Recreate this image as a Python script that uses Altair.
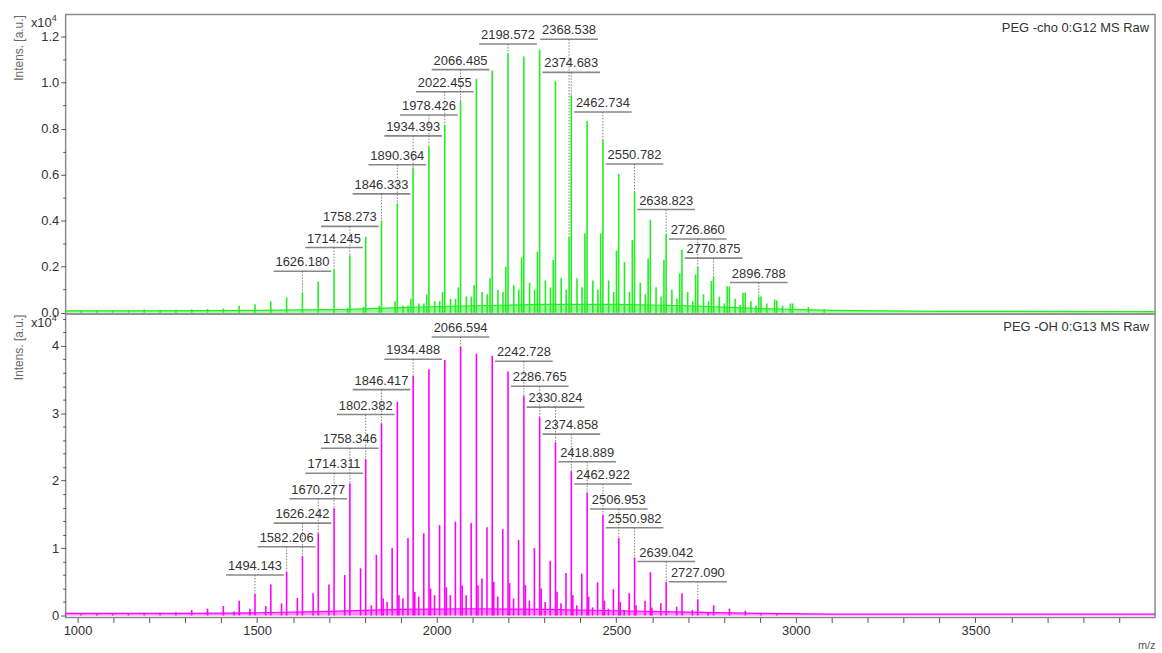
import altair as alt
import pandas as pd

# ------------------------------------------------------------------
# Data (intensities in units of 1e4)
# ------------------------------------------------------------------

# ---- top spectrum: PEG -cho 0:G12 MS Raw ----
top_main_mz = [1009.78, 1053.81, 1097.84, 1141.87, 1185.90, 1229.93, 1273.96, 1317.99,
               1362.00, 1406.03, 1450.06, 1494.09, 1538.12, 1582.15, 1626.18, 1670.21,
               1714.25, 1758.27, 1802.30, 1846.33, 1890.36, 1934.39, 1978.43, 2022.46,
               2066.49, 2110.51, 2154.54, 2198.57, 2242.60, 2286.63, 2330.66, 2374.68,
               2418.71, 2462.73, 2506.76, 2550.78, 2594.80, 2638.82, 2682.84, 2726.86,
               2770.88, 2814.90, 2858.92, 2902.94, 2946.96, 2990.98, 3035.00, 3079.02]
top_main_int = [0.010, 0.012, 0.010, 0.012, 0.014, 0.012, 0.013, 0.015,
                0.016, 0.018, 0.030, 0.037, 0.049, 0.066, 0.088, 0.135,
                0.189, 0.250, 0.329, 0.401, 0.476, 0.631, 0.722, 0.816,
                0.919, 1.016, 1.052, 1.128, 1.113, 1.142, 1.006, 0.944,
                0.833, 0.750, 0.603, 0.524, 0.404, 0.344, 0.275, 0.200,
                0.157, 0.114, 0.088, 0.070, 0.053, 0.040, 0.025, 0.015]

top_sec_mz = [1752.1, 1796.2, 1840.2, 1884.2, 1928.2, 1972.3, 2016.3, 2060.3, 2104.4,
              2148.4, 2192.4, 2236.5, 2280.5, 2324.5, 2368.54, 2412.6, 2456.6, 2500.6,
              2544.6, 2588.7, 2632.7, 2676.7, 2720.7, 2764.7, 2808.8, 2852.8, 2896.79,
              2940.8, 2984.8]
top_sec_int = [0.020, 0.025, 0.030, 0.050, 0.060, 0.080, 0.090, 0.110, 0.120,
               0.150, 0.200, 0.240, 0.265, 0.230, 0.330, 0.344, 0.344, 0.270,
               0.315, 0.236, 0.230, 0.171, 0.166, 0.137, 0.115, 0.086, 0.070,
               0.057, 0.040]

top_ter_mz = [1906.4, 1950.4, 1994.4, 2038.5, 2082.5, 2126.5, 2170.5, 2214.6, 2258.6,
              2302.6, 2346.7, 2390.7, 2434.7, 2478.7, 2522.8, 2566.8, 2610.8, 2654.8,
              2698.8, 2742.9, 2786.9, 2830.9, 2874.9, 2918.9, 2963.0]
top_ter_int = [0.030, 0.040, 0.050, 0.060, 0.070, 0.090, 0.100, 0.120, 0.130,
               0.140, 0.150, 0.150, 0.140, 0.140, 0.220, 0.130, 0.110, 0.100,
               0.090, 0.080, 0.070, 0.060, 0.050, 0.040, 0.030]

top_q_mz = [1920.4, 1964.4, 2008.5, 2052.5, 2096.5, 2140.5, 2184.6, 2228.6, 2272.6,
            2316.7, 2360.7, 2404.7, 2448.7, 2492.8, 2536.8, 2580.8, 2624.8, 2668.8,
            2712.9, 2756.9, 2800.9, 2844.9, 2888.9]
top_q_int = [0.030, 0.040, 0.050, 0.060, 0.070, 0.080, 0.090, 0.100, 0.100,
             0.110, 0.100, 0.110, 0.100, 0.090, 0.090, 0.080, 0.070, 0.060,
             0.050, 0.050, 0.040, 0.035, 0.030]

top_base_mz = [967, 1200, 1500, 1750, 1900, 2100, 2300, 2500, 2700, 2900, 3100, 3400, 4000]
top_base_int = [0.008, 0.008, 0.010, 0.014, 0.022, 0.030, 0.036, 0.036, 0.030, 0.018,
                0.010, 0.006, 0.005]

top_lab_text = ["1626.180", "1714.245", "1758.273", "1846.333", "1890.364", "1934.393",
                "1978.426", "2022.455", "2066.485", "2198.572", "2368.538", "2374.683",
                "2462.734", "2550.782", "2638.823", "2726.860", "2770.875", "2896.788"]
top_lab_level = [0.180, 0.283, 0.375, 0.516, 0.643, 0.768,
                 0.859, 0.960, 1.056, 1.167, 1.188, 1.044,
                 0.872, 0.646, 0.448, 0.320, 0.237, 0.131]

# ---- bottom spectrum: PEG -OH 0:G13 MS Raw ----
bot_main_mz = [1009.8, 1053.8, 1097.8, 1141.9, 1185.9, 1229.9, 1274.0, 1318.0, 1362.0,
               1406.07, 1450.11, 1494.14, 1538.17, 1582.21, 1626.24, 1670.28, 1714.31,
               1758.35, 1802.38, 1846.42, 1890.45, 1934.49, 1978.52, 2022.56, 2066.59,
               2110.62, 2154.66, 2198.69, 2242.73, 2286.77, 2330.82, 2374.86, 2418.89,
               2462.92, 2506.95, 2550.98, 2595.01, 2639.04, 2683.07, 2727.09, 2771.12,
               2815.15, 2859.18, 2903.21, 2947.24]
bot_main_int = [0.03, 0.035, 0.03, 0.035, 0.04, 0.04, 0.05, 0.08, 0.10,
                0.14, 0.22, 0.32, 0.46, 0.65, 0.88, 1.22, 1.59,
                1.96, 2.32, 2.85, 3.17, 3.55, 3.65, 3.79, 3.99,
                3.88, 3.85, 3.62, 3.26, 2.94, 2.57, 2.14, 1.82,
                1.49, 1.15, 0.86, 0.64, 0.50, 0.33, 0.24, 0.15,
                0.10, 0.07, 0.04, 0.03]

bot_sec_mz = [1436, 1480, 1524, 1568, 1612, 1656, 1700, 1744, 1788, 1832, 1876, 1920,
              1964, 2008, 2052, 2096, 2140, 2184, 2228, 2272, 2316, 2360, 2404, 2448,
              2492, 2536, 2580, 2624, 2668, 2712, 2756]
bot_sec_int = [0.06, 0.10, 0.14, 0.18, 0.26, 0.33, 0.46, 0.60, 0.70, 0.90, 1.00, 1.15,
               1.22, 1.34, 1.39, 1.37, 1.31, 1.28, 1.12, 1.00, 0.81, 0.63, 0.62, 0.49,
               0.39, 0.33, 0.22, 0.18, 0.13, 0.08, 0.05]

bot_sh_mz = [1851, 1895, 1939, 1983, 2027, 2071, 2115, 2159, 2203, 2247, 2291, 2335,
             2379, 2423, 2467, 2511, 2555, 2599]
bot_sh_int = [0.25, 0.30, 0.35, 0.40, 0.42, 0.45, 0.45, 0.50, 0.48, 0.45, 0.40, 0.35,
              0.30, 0.28, 0.22, 0.20, 0.15, 0.12]

bot_mid_mz = [1818, 1862, 1906, 1950, 1994, 2038, 2082, 2126, 2170, 2214, 2258, 2302,
              2346, 2390, 2434, 2478, 2522]
bot_mid_int = [0.15, 0.20, 0.25, 0.28, 0.30, 0.30, 0.30, 0.55, 0.28, 0.25, 0.22, 0.20,
               0.18, 0.15, 0.12, 0.10, 0.08]

bot_base_mz = [967, 1300, 1500, 1700, 1900, 2100, 2300, 2500, 2700, 2900, 3100, 4000]
bot_base_int = [0.03, 0.03, 0.04, 0.06, 0.09, 0.10, 0.09, 0.07, 0.05, 0.03, 0.02, 0.02]

bot_lab_text = ["1494.143", "1582.206", "1626.242", "1670.277", "1714.311", "1758.346",
                "1802.382", "1846.417", "1934.488", "2066.594", "2242.728", "2286.765",
                "2330.824", "2374.858", "2418.889", "2462.922", "2506.953", "2550.982",
                "2639.042", "2727.090"]
bot_lab_level = [0.60, 1.02, 1.37, 1.73, 2.11, 2.48,
                 2.98, 3.35, 3.80, 4.13, 3.77, 3.40,
                 3.09, 2.69, 2.28, 1.95, 1.58, 1.30,
                 0.80, 0.50]

# axis ticks
x_ticks = list(range(1000, 4000, 100))
top_y_ticks = [round(i * 0.1, 1) for i in range(13)]
bot_y_ticks = [round(i * 0.2, 1) for i in range(23)]

# ------------------------------------------------------------------
FONT = "Liberation Sans"
W = 1095
X_DOMAIN = [967, 4000]


def peak_frame(mz_lists, int_lists):
    rows = []
    for mzs, ints in zip(mz_lists, int_lists):
        for m, v in zip(mzs, ints):
            rows.append({"mz": m, "inten": v, "zero": 0.0})
    return pd.DataFrame(rows)


def label_frame(texts, levels, peaks):
    rows = []
    for t, lv in zip(texts, levels):
        m = float(t)
        i = (peaks["mz"] - m).abs().idxmin()
        rows.append({"mz": m, "inten": lv, "pk": float(peaks.loc[i, "inten"]), "txt": t})
    return pd.DataFrame(rows)


def panel(peaks, base, labels, color, ydom, height, yticks, major_test, fmt,
          title_pad, title_txt, show_x, exp_y):
    xs = alt.Scale(domain=X_DOMAIN, nice=False, zero=False)
    ys = alt.Scale(domain=ydom, nice=False, zero=False)
    if show_x:
        X = alt.X("mz:Q", scale=xs, axis=alt.Axis(
            values=x_ticks,
            labelExpr="datum.value % 500 === 0 ? '' + datum.value : ''",
            tickSize=5, tickColor="#555", tickWidth=1,
            labelPadding=2, labelFont=FONT, labelFontSize=13, labelColor="#333",
            domain=False, grid=False, title="m/z", titleAnchor="end",
            titleFont=FONT, titleFontSize=11, titleFontWeight="normal",
            titleColor="#555", titlePadding=2))
    else:
        X = alt.X("mz:Q", scale=xs, axis=None)
    Y = alt.Y("inten:Q", scale=ys, axis=alt.Axis(
        values=yticks,
        labelExpr=f"{major_test} ? format(datum.value, '{fmt}') : ''",
        tickSize={"condition": {"test": major_test, "value": 5}, "value": 3},
        tickColor="#555", tickWidth=1, labelPadding=2,
        labelFont=FONT, labelFontSize=13, labelColor="#333",
        domain=False, grid=False, title="Intens. [a.u.]", titleAnchor="end",
        titleFont=FONT, titleFontSize=12, titleFontWeight="normal",
        titleColor="#666", titlePadding=title_pad))

    base_area = alt.Chart(base).mark_area(color=color, opacity=0.45).encode(
        x=X, y=Y, y2=alt.datum(0))
    base_line = alt.Chart(base).mark_line(color=color, strokeWidth=1.2).encode(x=X, y=Y)
    spikes = alt.Chart(peaks).mark_rule(color=color, strokeWidth=1.6).encode(
        x=X, y=Y, y2="zero:Q")
    leaders = alt.Chart(labels).mark_rule(color="#808080", strokeWidth=1,
                                          strokeDash=[1.5, 1.5]).encode(x=X, y=Y, y2="pk:Q")
    underline = alt.Chart(labels).mark_tick(orient="horizontal", size=58, thickness=1.6,
                                            color="#555").encode(x=X, y=Y)
    texts = alt.Chart(labels).mark_text(font=FONT, fontSize=13, color="#333",
                                        baseline="bottom", dy=-2).encode(
        x=X, y=Y, text="txt:N")
    tdf = pd.DataFrame({"t": [title_txt]})
    ptitle = alt.Chart(tdf).mark_text(align="right", baseline="middle", font=FONT,
                                      fontSize=13, color="#333").encode(
        x=alt.value(W - 6), y=alt.value(13), text="t:N")
    edf = pd.DataFrame({"a": ["x10"], "b": ["4"]})
    exp1 = alt.Chart(edf).mark_text(align="right", baseline="alphabetic", font=FONT,
                                    fontSize=13, color="#333").encode(
        x=alt.value(-14), y=alt.value(exp_y), text="a:N")
    exp2 = alt.Chart(edf).mark_text(align="left", baseline="alphabetic", font=FONT,
                                    fontSize=9, color="#333").encode(
        x=alt.value(-14), y=alt.value(exp_y - 6), text="b:N")
    return alt.layer(base_area, base_line, spikes, leaders, underline, texts, ptitle,
                     exp1, exp2).properties(width=W, height=height)


top_peaks = peak_frame([top_main_mz, top_sec_mz, top_ter_mz, top_q_mz],
                       [top_main_int, top_sec_int, top_ter_int, top_q_int])
top_base = pd.DataFrame({"mz": top_base_mz, "inten": top_base_int})
top_labels = label_frame(top_lab_text, top_lab_level, top_peaks)

bot_peaks = peak_frame([bot_main_mz, bot_sec_mz, bot_sh_mz, bot_mid_mz],
                       [bot_main_int, bot_sec_int, bot_sh_int, bot_mid_int])
bot_base = pd.DataFrame({"mz": bot_base_mz, "inten": bot_base_int})
bot_labels = label_frame(bot_lab_text, bot_lab_level, bot_peaks)

top = panel(top_peaks, top_base, top_labels, "#22ee22", [-0.006, 1.295], 301,
            top_y_ticks, "round(datum.value*10) % 2 === 0", ".1f", 15,
            "PEG -cho 0:G12 MS Raw", False, 12)
bottom = panel(bot_peaks, bot_base, bot_labels, "#ff00ff", [-0.03, 4.47], 305,
               bot_y_ticks, "round(datum.value*5) % 5 === 0", "d", 26,
               "PEG -OH 0:G13 MS Raw", True, 13)

chart = alt.vconcat(top, bottom, spacing=0, bounds="flush").resolve_scale(
    y="independent").properties(
    padding={"left": 12, "top": 11, "right": 3, "bottom": 0},
    background="white",
).configure_view(stroke="#8c8c8c", strokeWidth=1.5)

chart.save("out.html", embed_options={"renderer": "svg", "actions": False})
